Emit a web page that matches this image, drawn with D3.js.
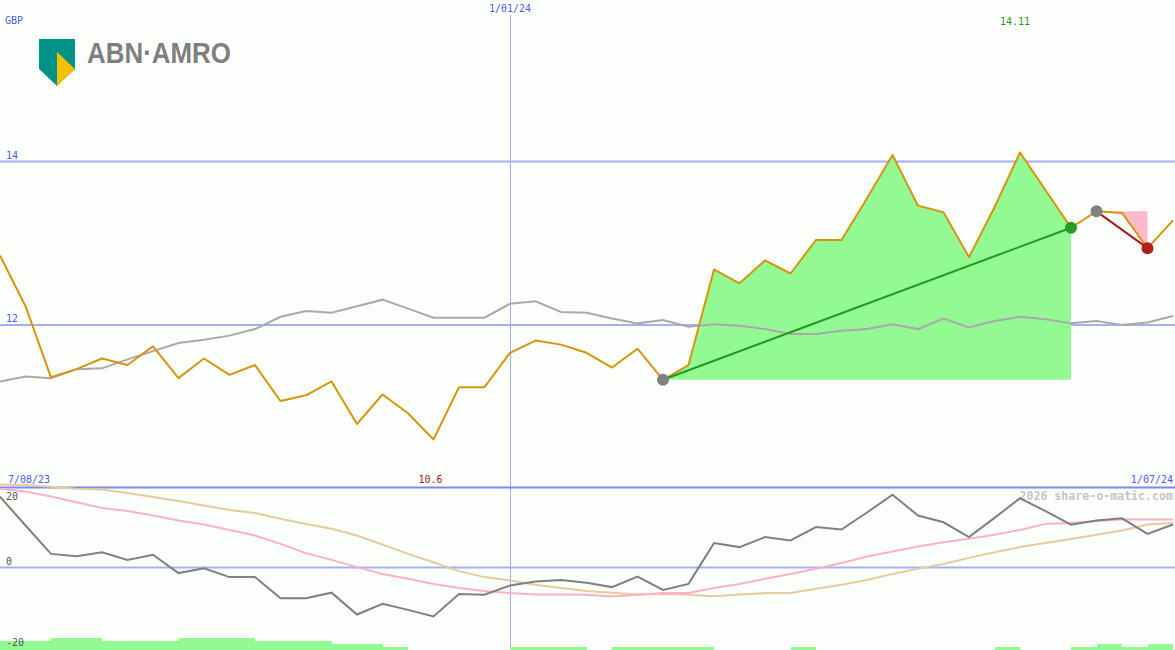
<!DOCTYPE html>
<html><head><meta charset="utf-8">
<script src="https://cdn.jsdelivr.net/npm/d3@7"></script>
<style>
body{margin:0;background:#fcfefc}
svg{display:block}
</style>
</head><body>
<svg id="c" width="1175" height="650" font-family="DejaVu Sans Mono, monospace"></svg>
<script>
const dates = ["14/08/23","21/08/23","28/08/23","4/09/23","11/09/23","18/09/23","25/09/23","2/10/23","9/10/23","16/10/23",
"23/10/23","30/10/23","6/11/23","13/11/23","20/11/23","27/11/23","4/12/23","11/12/23","18/12/23","25/12/23",
"1/01/24","8/01/24","15/01/24","22/01/24","29/01/24","5/02/24","12/02/24","19/02/24","26/02/24","4/03/24",
"11/03/24","18/03/24","25/03/24","1/04/24","8/04/24","15/04/24","22/04/24","29/04/24","6/05/24","13/05/24",
"20/05/24","27/05/24","3/06/24","10/06/24","17/06/24","24/06/24","1/07/24"];

const price = [12.85,12.23,11.36,11.46,11.59,11.51,11.74,11.35,11.59,11.39,
11.51,11.07,11.14,11.31,10.79,11.15,10.92,10.60,11.24,11.24,
11.66,11.81,11.76,11.66,11.48,11.71,11.33,11.51,12.68,12.51,
12.79,12.63,13.04,13.04,13.55,14.08,13.46,13.38,12.83,13.44,
14.11,13.65,13.19,13.39,13.37,12.94,13.28];

const avg = [11.31,11.37,11.35,11.46,11.47,11.58,11.68,11.78,11.82,11.87,
11.95,12.10,12.17,12.15,12.23,12.31,12.20,12.09,12.09,12.09,
12.26,12.29,12.16,12.15,12.08,12.02,12.06,11.98,12.01,11.99,
11.95,11.89,11.89,11.93,11.95,12.01,11.95,12.08,11.97,12.05,
12.10,12.07,12.02,12.05,12.00,12.03,12.11];

const momentum = [17.7,10.5,3.4,2.8,3.8,1.9,3.2,-1.4,-0.2,-2.4,
-2.4,-7.7,-7.7,-6.3,-11.75,-9.1,-10.6,-12.25,-6.6,-6.8,
-4.5,-3.5,-3.1,-3.8,-4.9,-2.25,-5.6,-4.1,6.1,5.1,
7.6,6.75,10.1,9.5,13.75,18.2,13,11.3,7.6,12.4,
17.3,14.1,10.7,11.75,12.3,8.4,10.75];

const fastSignal = [19.7,19.0,17.75,16.3,14.9,14.1,13.0,11.75,10.75,9.4,
8.0,5.9,3.6,1.9,0.1,-1.6,-2.8,-4.1,-5.1,-5.9,
-6.4,-6.75,-6.75,-6.8,-7.25,-6.8,-6.4,-6.4,-5.1,-4.1,
-2.8,-1.6,-0.3,1.1,2.75,4.0,5.25,6.3,7.2,8.2,
9.4,10.9,11.1,11.6,12.0,12.0,12.0];

const slowSignal = [20.75,20.6,20.2,19.7,19.5,18.6,17.6,16.6,15.5,14.4,
13.6,12.2,10.9,9.7,8.0,5.75,3.4,1.3,-0.9,-2.4,
-3.25,-4.3,-5.1,-5.9,-6.3,-6.75,-6.6,-6.8,-7.2,-6.75,
-6.4,-6.4,-5.3,-4.3,-3.1,-1.6,-0.3,0.9,2.4,3.8,
5.1,6.1,7.1,8.2,9.25,10.75,11.1];

const volumeLevel = [3,3,4,4,3,3,3,4,4,4,3,3,3,2,2,1,0,0,0,0,1,1,1,0,1,1,1,1,0,0,0,1,0,0,0,0,0,0,0,1,0,0,1,2,1,2];

const priceTicks = [12, 14];
const oscTicks = [20, 0, -20];
const markDate = "1/01/24";
const trades = [{from: 26, to: 42, win: true}, {from: 43, to: 45, win: false}];
const currency = "GBP";
const startLabel = "7/08/23", endLabel = "1/07/24";

const W = 1175, H = 650;
const svg = d3.select("#c");
svg.append("rect").attr("width", W).attr("height", H).attr("fill", "#fcfefc");

const x = d3.scalePoint().domain(dates).range([0, 1173]);
const y = d3.scaleLinear().domain([12, 14]).range([325, 161.5]);
const yo = d3.scaleLinear().domain([0, 20]).range([567.5, 487.5]);
const yv = d3.scaleLinear().domain([0, 4]).range([650, 638]);

// price gridlines
svg.selectAll(".pg").data(priceTicks).join("line")
  .attr("x1", 0).attr("x2", W).attr("y1", d => y(d)).attr("y2", d => y(d))
  .attr("stroke", "#a4b0f4").attr("stroke-width", 2);
svg.selectAll(".pl").data(priceTicks).join("text")
  .attr("x", 6).attr("y", d => y(d) - 3).text(d => d)
  .attr("font-size", 10).attr("fill", "#4a5cf0");

// vertical date line
svg.append("line").attr("x1", Math.round(x(markDate)) + 0.5).attr("x2", Math.round(x(markDate)) + 0.5)
  .attr("y1", 15).attr("y2", H).attr("stroke", "#a8b0e6").attr("stroke-width", 1);
svg.append("text").attr("x", x(markDate)).attr("y", 12).attr("text-anchor", "middle")
  .attr("font-size", 10).attr("fill", "#4a5cf0").text(markDate);

svg.append("text").attr("x", 5).attr("y", 24).attr("font-size", 10).attr("fill", "#4a5cf0").text(currency);

// trade areas
trades.forEach(t => {
  const base = price[t.from];
  const idx = d3.range(t.from, t.to + 1);
  const area = d3.area().x(i => x(dates[i])).y0(y(base)).y1(i => y(price[i]));
  svg.append("path").datum(idx).attr("d", area)
    .attr("fill", t.win ? "#93f993" : "#fcb8cc");
});

const line = (arr, ys) => d3.line().x((d, i) => x(dates[i])).y(d => ys(d))(arr);
// moving average
svg.append("path").attr("d", line(avg, y)).attr("fill", "none")
  .attr("stroke", "#a9a9a9").attr("stroke-width", 2);
// price
svg.append("path").attr("d", line(price, y)).attr("fill", "none")
  .attr("stroke", "#d8940a").attr("stroke-width", 2).attr("stroke-linejoin", "round");

// trade lines & markers
trades.forEach(t => {
  const col = t.win ? "#229a22" : "#a01c1c";
  svg.append("line").attr("x1", x(dates[t.from])).attr("y1", y(price[t.from]))
    .attr("x2", x(dates[t.to])).attr("y2", y(price[t.to]))
    .attr("stroke", col).attr("stroke-width", 2);
  svg.append("circle").attr("cx", x(dates[t.from])).attr("cy", y(price[t.from])).attr("r", 6).attr("fill", "#808080");
  svg.append("circle").attr("cx", x(dates[t.to])).attr("cy", y(price[t.to])).attr("r", 6)
    .attr("fill", t.win ? "#249f24" : "#b01e1e");
});

// max / min labels
const maxI = d3.maxIndex(price), minI = d3.minIndex(price);
svg.append("text").attr("x", x(dates[maxI]) - 5).attr("y", 25).attr("text-anchor", "middle")
  .attr("font-size", 10).attr("fill", "#1f9a1f").text(price[maxI]);
svg.append("text").attr("x", x(dates[minI]) - 3).attr("y", 483).attr("text-anchor", "middle")
  .attr("font-size", 10).attr("fill", "#a01c1c").text(price[minI]);

// lower panel
svg.append("line").attr("x1", 0).attr("x2", W).attr("y1", yo(20)).attr("y2", yo(20))
  .attr("stroke", "#7888f0").attr("stroke-width", 2);
svg.append("line").attr("x1", 0).attr("x2", W).attr("y1", yo(0)).attr("y2", yo(0))
  .attr("stroke", "#a4b0f4").attr("stroke-width", 2);
svg.append("text").attr("x", 8).attr("y", 483).attr("font-size", 10).attr("fill", "#4a5cf0").text(startLabel);
svg.append("text").attr("x", 1173).attr("y", 483).attr("text-anchor", "end").attr("font-size", 10).attr("fill", "#4a5cf0").text(endLabel);

svg.append("text").attr("x", 1173).attr("y", 500).attr("text-anchor", "end")
  .attr("font-size", 11.6).attr("font-weight", "bold").attr("fill", "#c6c6c6").text("2026 share-o-matic.com");

// volume-like bars
svg.selectAll(".vb").data(volumeLevel).join("rect")
  .attr("x", (d, i) => x(dates[i])).attr("width", (d, i) => x(dates[i + 1]) - x(dates[i]))
  .attr("y", d => yv(d)).attr("height", d => yv(0) - yv(d))
  .attr("fill", "#93f993").attr("shape-rendering", "crispEdges");

svg.append("path").attr("d", line(slowSignal, yo)).attr("fill", "none")
  .attr("stroke", "#e4cc9c").attr("stroke-width", 2);
svg.append("path").attr("d", line(fastSignal, yo)).attr("fill", "none")
  .attr("stroke", "#fcb0c8").attr("stroke-width", 2);
svg.append("path").attr("d", line(momentum, yo)).attr("fill", "none")
  .attr("stroke", "#808080").attr("stroke-width", 2);

const oscLabelY = {"20": 500, "0": 565, "-20": 646};
svg.selectAll(".ol").data(oscTicks).join("text")
  .attr("x", 6).attr("y", d => oscLabelY[d]).text(d => d)
  .attr("font-size", 10).attr("fill", "#555");

// logo
const logo = svg.append("g");
logo.append("path").attr("d", d3.line()([[39,39],[75,39],[75,69],[57,86],[39,69]]) + "Z").attr("fill", "#009286");
logo.append("path").attr("d", d3.line()([[57,52],[75,69],[57,86]]) + "Z").attr("fill", "#f4c000");
logo.append("text").attr("x", 87).attr("y", 63)
  .style("font-family", "'Liberation Sans Narrow', 'Liberation Sans', Arial, sans-serif")
  .attr("font-weight", "bold").attr("font-size", 29).attr("fill", "#7f7f7f")
  .attr("textLength", 144).attr("lengthAdjust", "spacingAndGlyphs").text("ABN·AMRO");
</script>
</body></html>
